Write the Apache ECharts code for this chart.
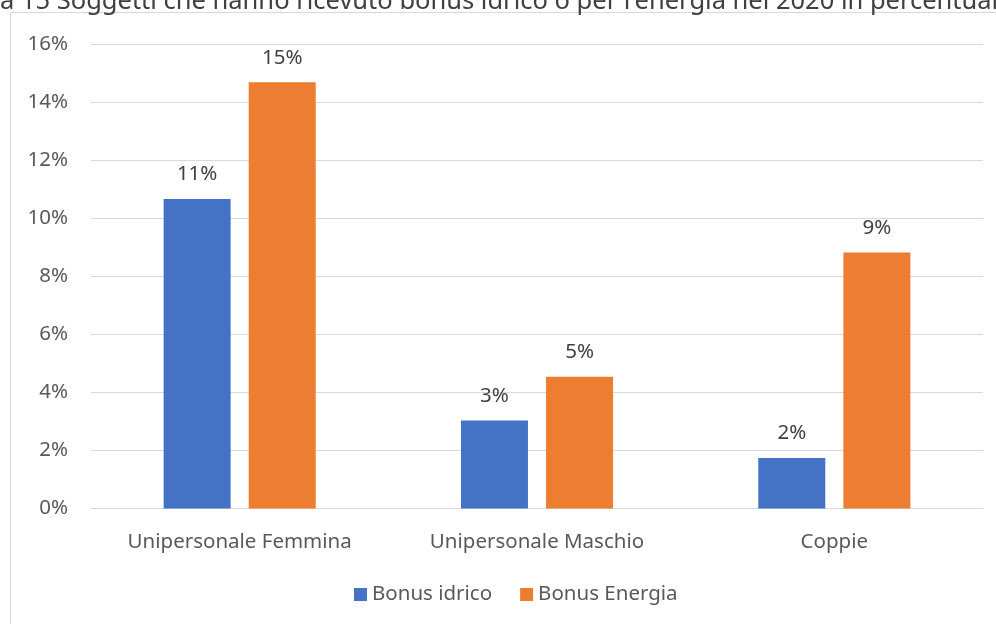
<!DOCTYPE html>
<html>
<head>
<meta charset="utf-8">
<style>
  html, body { margin: 0; padding: 0; background: #fff; }
  #chart { width: 996px; height: 624px; }
</style>
<script src="https://cdn.jsdelivr.net/npm/echarts@6/dist/echarts.min.js"></script>
</head>
<body>
<div id="chart"></div>
<script>
  // dati
  var categories = ['Unipersonale Femmina', 'Unipersonale Maschio', 'Coppie'];
  var bonusIdrico = [10.66, 3.03, 1.74];
  var bonusEnergia = [14.68, 4.54, 8.82];
  var yTicks = [0, 2, 4, 6, 8, 10, 12, 14, 16];

  var font = 'Noto Sans';
  var fs = 20.5;
  var chart = echarts.init(document.getElementById('chart'));

  function pctLabel(p) {
    return Math.round(p.value) + '%';
  }

  chart.setOption({
    animation: false,
    textStyle: { fontFamily: font },
    graphic: [
      {
        type: 'rect',
        shape: { x: 10.5, y: 12.5, width: 1000, height: 700 },
        style: { fill: 'none', stroke: '#d9d9d9', lineWidth: 1 }
      },
      {
        type: 'text',
        left: 0,
        top: -11,
        style: {
          text: "a 15 Soggetti che hanno ricevuto bonus idrico o per l'energia nel 2020 in percentuale",
          font: '25.5px "Noto Sans"',
          fill: '#404040'
        }
      }
    ],
    legend: {
      bottom: 14,
      left: 349,
      itemWidth: 13,
      itemHeight: 13,
      itemGap: 28,
      icon: 'rect',
      textStyle: { color: '#595959', fontSize: fs, fontFamily: font },
      data: ['Bonus idrico', 'Bonus Energia']
    },
    grid: { left: 91, right: 13, top: 44, bottom: 115.5 },
    xAxis: {
      type: 'category',
      data: categories,
      axisLine: { lineStyle: { color: '#d9d9d9', width: 1 } },
      axisTick: { show: false },
      axisLabel: { color: '#595959', fontSize: fs, margin: 23 }
    },
    yAxis: {
      type: 'value',
      min: yTicks[0],
      max: yTicks[yTicks.length - 1],
      interval: 2,
      axisLine: { show: false },
      axisTick: { show: false },
      splitLine: { lineStyle: { color: '#d9d9d9', width: 1 } },
      axisLabel: { color: '#595959', fontSize: fs, margin: 23, formatter: '{value}%' }
    },
    series: [
      {
        name: 'Bonus idrico',
        type: 'bar',
        data: bonusIdrico,
        barWidth: 67,
        barGap: '27%',
        itemStyle: { color: '#4472C4' },
        label: { show: true, position: 'top', distance: 14, color: '#404040', fontSize: fs, formatter: pctLabel }
      },
      {
        name: 'Bonus Energia',
        type: 'bar',
        data: bonusEnergia,
        barWidth: 67,
        itemStyle: { color: '#ED7D31' },
        label: { show: true, position: 'top', distance: 14, color: '#404040', fontSize: fs, formatter: pctLabel }
      }
    ]
  });
</script>
</body>
</html>
